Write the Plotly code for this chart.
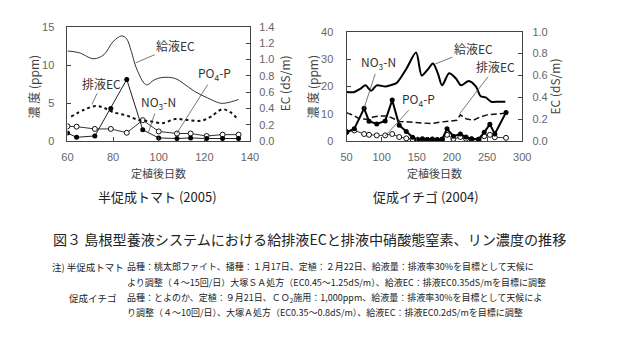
import plotly.graph_objects as go

# ---------------- Data: 半促成トマト (2005) ----------------
t_ec_days = [60, 65, 71.5, 76, 80, 83.7, 85.8, 88, 90, 93.6, 95, 98, 101.4, 107, 110.7, 115.7, 121.4, 127, 130, 135]
t_ec_supply = [1.105, 1.085, 1.01, 1.06, 1.22, 1.29, 1.26, 1.10, 0.91, 0.71, 0.69, 0.75, 0.78, 0.77, 0.71, 0.61, 0.53, 0.465, 0.47, 0.51]
t_dr_days = [61.6, 67.3, 72.2, 75.8, 80, 85.8, 91.5, 95.8, 101.5, 107.2, 112.9, 118.6, 122.9, 127.8, 131.4, 135]
t_ec_drain = [0.30, 0.385, 0.43, 0.41, 0.355, 0.315, 0.257, 0.245, 0.22, 0.27, 0.258, 0.25, 0.30, 0.39, 0.355, 0.257]
t_days = [60, 64, 72, 79, 86, 93, 100, 108, 114, 121, 128, 135]
t_no3 = [1.05, 0.5, 0.68, 4.3, 8.1, 1.48, 0.42, 0.34, 0.42, 0.34, 0.34, 0.34]
t_po4 = [1.95, 1.9, 1.6, 1.6, 1.1, 2.75, 1.27, 1.0, 1.0, 0.67, 0.85, 0.85]

# ---------------- Data: 促成イチゴ (2004) ----------------
s_ec_days = [50, 61, 70, 77, 85, 93, 105, 112, 121, 135, 149, 157, 165, 173, 180, 186, 196, 206, 213, 224, 234, 241, 248, 256, 266, 276]
s_ec_supply = [0.45, 0.45, 0.48, 0.51, 0.46, 0.51, 0.50, 0.51, 0.53, 0.66, 0.81, 0.60, 0.65, 0.71, 0.62, 0.51, 0.62, 0.57, 0.51, 0.55, 0.50, 0.41, 0.40, 0.36, 0.36, 0.36]
s_dr_days = [50, 60, 68, 78, 88, 98, 108, 116, 126, 140, 155, 170, 185, 200, 207, 212, 220, 230, 240, 250, 262, 277]
s_ec_drain = [0.26, 0.235, 0.205, 0.20, 0.22, 0.23, 0.23, 0.21, 0.18, 0.175, 0.165, 0.16, 0.175, 0.185, 0.19, 0.24, 0.205, 0.19, 0.22, 0.24, 0.245, 0.256]
s_days = [50, 61, 75, 82, 93, 105, 115, 125, 135, 144, 151, 158, 165, 172, 179, 186, 193, 202, 212, 220, 228, 238, 246, 254, 261, 277]
s_no3 = [3.3, 4.5, 12.0, 7.3, 6.3, 7.4, 15.0, 5.8, 3.5, 1.4, 0.5, 0.9, 0.6, 0.8, 0.5, 0.6, 4.5, 1.8, 2.6, 1.5, 0.9, 0.7, 3.2, 6.2, 2.6, 10.5]
s_po4 = [3.3, 3.9, 2.6, 2.3, 2.1, 2.1, 2.6, 1.5, 1.0, 0.7, 0.5, 0.5, 0.4, 0.5, 0.4, 0.6, 2.3, 0.8, 1.5, 0.9, 0.6, 0.5, 1.8, 2.3, 1.4, 1.2]

W, H = 619, 344
JP = "Noto Sans CJK JP"
NUM = "Liberation Sans, Arial, sans-serif"

fig = go.Figure()

# ---- left plot traces ----
fig.add_trace(go.Scatter(x=t_ec_days, y=t_ec_supply, mode="lines", line=dict(color="#333", width=1, shape="spline"),
                         xaxis="x", yaxis="y2", showlegend=False))
fig.add_trace(go.Scatter(x=t_dr_days, y=t_ec_drain, mode="lines", line=dict(color="#111", width=2, dash="dot", shape="spline"),
                         xaxis="x", yaxis="y2", showlegend=False))
fig.add_trace(go.Scatter(x=t_days, y=t_po4, mode="lines+markers", line=dict(color="#333", width=1),
                         marker=dict(symbol="circle", size=5, color="white", line=dict(color="#111", width=1)),
                         xaxis="x", yaxis="y", showlegend=False))
fig.add_trace(go.Scatter(x=t_days, y=t_no3, mode="lines+markers", line=dict(color="#222", width=1),
                         marker=dict(symbol="circle", size=5, color="black"),
                         xaxis="x", yaxis="y", showlegend=False))

# ---- right plot traces ----
fig.add_trace(go.Scatter(x=s_ec_days, y=s_ec_supply, mode="lines", line=dict(color="black", width=2, shape="spline", smoothing=0.8),
                         xaxis="x2", yaxis="y4", showlegend=False))
fig.add_trace(go.Scatter(x=s_dr_days, y=s_ec_drain, mode="lines", line=dict(color="#111", width=1.5, dash="6px,3px"),
                         xaxis="x2", yaxis="y4", showlegend=False))
fig.add_trace(go.Scatter(x=s_days, y=s_po4, mode="lines+markers", line=dict(color="#333", width=1),
                         marker=dict(symbol="circle", size=5, color="white", line=dict(color="#111", width=1)),
                         xaxis="x2", yaxis="y3", showlegend=False))
fig.add_trace(go.Scatter(x=s_days, y=s_no3, mode="lines+markers", line=dict(color="black", width=2),
                         marker=dict(symbol="circle", size=5, color="black"),
                         xaxis="x2", yaxis="y3", showlegend=False))

tickfont = dict(family=NUM, size=11, color="#666")
axcommon = dict(showgrid=False, zeroline=False, showline=True, linecolor="#444", linewidth=1,
                ticks="inside", ticklen=4, tickcolor="#444", tickfont=tickfont)

L = (63 / W, 250 / W)
R = (349 / W, 529 / W)
LY = (1 - 140 / H, 1 - 21.7 / H)
RY = (1 - 140 / H, 1 - 26.7 / H)

fig.update_layout(
    width=W, height=H, margin=dict(l=0, r=0, t=0, b=0),
    paper_bgcolor="white", plot_bgcolor="white",
    xaxis=dict(domain=L, range=[60, 140], dtick=20, anchor="y", mirror=True, ticklabelstandoff=6, **axcommon),
    yaxis=dict(domain=LY, range=[0, 15], dtick=5, anchor="x", ticklabelstandoff=10, **axcommon),
    yaxis2=dict(domain=LY, range=[0, 1.4], dtick=0.2, tickformat=".1f", anchor="x", overlaying="y", side="right",
                ticklabelstandoff=6, **axcommon),
    xaxis2=dict(domain=R, range=[50, 300], dtick=50, anchor="y3", mirror=True, ticklabelstandoff=6, **axcommon),
    yaxis3=dict(domain=RY, range=[0, 40], dtick=10, anchor="x2", ticklabelstandoff=10, **axcommon),
    yaxis4=dict(domain=RY, range=[0, 1.0], dtick=0.2, tickformat=".1f", anchor="x2", overlaying="y3", side="right",
                ticklabelstandoff=7, **axcommon),
)

ann = []
lab = dict(family=JP, size=12, color="#333")

def label(text, x, y, xref, yref, ax, ay):
    ann.append(dict(text=text, x=x, y=y, xref=xref, yref=yref, ax=ax, ay=ay, showarrow=True,
                    arrowhead=0, arrowwidth=0.8, arrowcolor="#555", font=lab, standoff=0, startstandoff=0))

# left plot labels
label("給液EC", 89.9, 0.96, "x", "y2", 40, -17)
label("排液EC", 70.7, 0.45, "x", "y2", 10, -21)
label("NO<sub>3</sub>-N", 95.5, 1.14, "x", "y", 10, -30)
label("PO<sub>4</sub>-P", 107.9, 1.0, "x", "y", 38, -60)
# right plot labels
label("給液EC", 176.4, 0.706, "x2", "y4", 38, -15)
label("排液EC", 211, 0.25, "x2", "y4", 36, -47)
label("NO<sub>3</sub>-N", 74.6, 11.8, "x2", "y3", 15, -46)
label("PO<sub>4</sub>-P", 104.6, 1.8, "x2", "y3", 34, -37)

def ptext(text, x, y, size, angle=0, xanchor="center", family=JP, color="#222"):
    ann.append(dict(text=text, x=x / W, y=1 - y / H, xref="paper", yref="paper", showarrow=False,
                    textangle=angle, xanchor=xanchor, yanchor="middle", borderpad=0,
                    font=dict(family=family, size=size, color=color)))

# axis titles
ptext("濃 度 (ppm)", 28, 84, 12, angle=-90, color="#444")
ptext("EC (dS/m)", 285, 80, 12, angle=-90, color="#444")
ptext("濃 度 (ppm)", 314, 84, 12, angle=-90, color="#444")
ptext("EC (dS/m)", 562, 83, 12, angle=-90, color="#444")
ptext("定植後日数", 156, 173, 11, color="#444")
ptext("定植後日数", 439, 173, 11, color="#444")

# subplot captions
ptext("半促成トマト (2005)", 155, 197, 13)
ptext("促成イチゴ (2004)", 430, 197, 13)

# figure caption
ptext("図３ 島根型養液システムにおける給排液ECと排液中硝酸態窒素、リン濃度の推移", 47, 241, 14.1, xanchor="left")

# notes
NS = 9
ptext("注) 半促成トマト", 46, 270, NS + 0.5, xanchor="left")
ptext("品種：桃太郎ファイト、播種：１月17日、定植：２月22日、給液量：排液率30%を目標として天候に", 123, 270, NS, xanchor="left")
ptext("より調整（４～15回/日）大塚ＳＡ処方（EC0.45～1.25dS/m）、給液EC：排液EC0.35dS/mを目標に調整", 123, 286, NS, xanchor="left")
ptext("促成イチゴ", 64, 303, NS + 0.5, xanchor="left")
ptext("品種：とよのか、定植：９月21日、ＣＯ<sub>2</sub>施用：1,000ppm、給液量：排液率30%を目標として天候によ", 123, 303, NS, xanchor="left")
ptext("り調整（４～10回/日）、大塚Ａ処方（EC0.35～0.8dS/m）、給液EC：排液EC0.2dS/mを目標に調整", 123, 318, NS, xanchor="left")

fig.update_layout(annotations=ann)
fig.write_html("out.html")
